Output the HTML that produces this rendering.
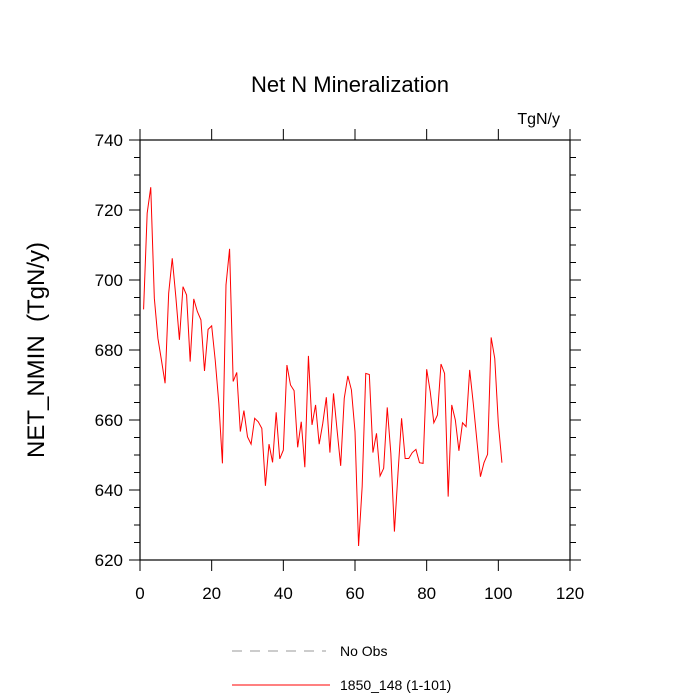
<!DOCTYPE html>
<html><head><meta charset="utf-8"><style>
html,body{margin:0;padding:0;background:#fff;}
svg{display:block;font-family:"Liberation Sans",sans-serif;}
</style></head><body>
<svg id="chart" width="700" height="700" xmlns="http://www.w3.org/2000/svg">
<text x="350" y="92" font-size="22" text-anchor="middle">Net N Mineralization</text>
<text x="560" y="124" font-size="16" text-anchor="end">TgN/y</text>
<text transform="translate(44,350) rotate(-90)" font-size="24" text-anchor="middle">NET_NMIN&#160; (TgN/y)</text>
<g id="axes"></g>
<g id="series"></g>
<g>
<line x1="232" y1="651" x2="326" y2="651" stroke="#999" stroke-width="1" stroke-dasharray="10,8"/>
<text x="340" y="656" font-size="14">No Obs</text>
<line x1="232" y1="685" x2="330" y2="685" stroke="red" stroke-width="1"/>
<text x="340" y="690" font-size="14">1850_148 (1-101)</text>
</g>
</svg>
<script>
const xTicks = [0,20,40,60,80,100,120];
const yTicks = [620,640,660,680,700,720,740];
const values = [691.6,719.1,726.5,694.8,683.3,677,670.5,696.2,706.2,695.2,682.9,698.1,695.7,676.7,694.6,691,688.6,674,685.9,686.9,677,664.8,647.6,698.6,708.9,671,673.6,656.7,662.7,655.2,653.1,660.5,659.5,657.6,641.2,653.1,647.9,662.2,648.9,651.4,675.7,670,668.4,652.2,659.5,646.5,678.3,658.6,664.3,653.1,659,666.5,650.7,667.6,657.1,646.9,666.2,672.6,668.6,656.7,624,641,673.3,673,650.7,656.2,644,646.2,663.6,650.5,628.1,644.8,660.5,649,649,650.7,651.6,647.8,647.6,674.5,668.1,659.2,661.4,676,673.3,638.1,664.3,660,651.2,659.2,658.1,674.3,664.8,654.3,643.8,647.8,650.2,683.6,677.6,659,647.8];
const L=140,R=570,T=140,B=560,NS="http://www.w3.org/2000/svg";
const xs=v=>L+(v-0)/120*(R-L);
const ys=v=>B-(v-620)/120*(B-T);
const ax=document.getElementById('axes');
function mk(tag,a,p){const e=document.createElementNS(NS,tag);for(const k in a)e.setAttribute(k,a[k]);p.appendChild(e);return e;}
const frame=mk('rect',{x:L,y:T,width:R-L,height:B-T,fill:'none',stroke:'#000','stroke-width':1.2},ax);


xTicks.forEach(t=>{
  const x=xs(t);
  mk('line',{x1:x,y1:B,x2:x,y2:B+11,stroke:'#000'},ax);
  mk('line',{x1:x,y1:T,x2:x,y2:T-11,stroke:'#000'},ax);
  const tx=mk('text',{x:x,y:B+39,'font-size':17,'text-anchor':'middle'},ax);
  tx.textContent=t;
  
  
});
for(let v=620;v<=740;v+=5){
  const y=ys(v),maj=(v%20===0),len=maj?11:6;
  mk('line',{x1:L,y1:y,x2:L-len,y2:y,stroke:'#000'},ax);
  mk('line',{x1:R,y1:y,x2:R+len,y2:y,stroke:'#000'},ax);
}
yTicks.forEach(t=>{
  const tx=mk('text',{x:L-17,y:ys(t)+6,'font-size':17,'text-anchor':'end'},ax);
  tx.textContent=t;
  
  
});
const pts=values.map((v,i)=>xs(i+1).toFixed(2)+','+ys(v).toFixed(2)).join(' ');
const line=mk('polyline',{points:pts,fill:'none',stroke:'red','stroke-width':1},document.getElementById('series'));


</script>
</body></html>
